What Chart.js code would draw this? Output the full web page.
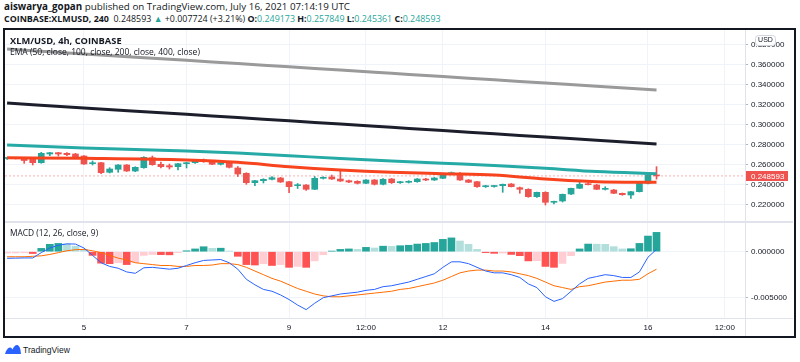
<!DOCTYPE html>
<html>
<head>
<meta charset="utf-8">
<title>XLM/USD 4h</title>
<script src="https://cdn.jsdelivr.net/npm/chart.js@4.4.1/dist/chart.umd.min.js"></script>
<style>
  html, body { margin: 0; padding: 0; background: #ffffff; }
  body { position: relative; width: 800px; height: 362px; overflow: hidden;
         font-family: "Open Sans", "Liberation Sans", Arial, sans-serif; color: #131722; }
  .txt { position: absolute; white-space: nowrap; line-height: 1; }
  .up { color: #26a69a; }
  canvas { position: absolute; }
  .sep { position: absolute; background: #e0e3eb; }
  #frame { position: absolute; left: 3px; top: 28px; width: 793px; height: 310px;
           border: 2px solid #131722; box-sizing: border-box; pointer-events: none; }
</style>
</head>
<body>
<div class="txt" style="left:4px; top:2px; font-size:9.8px;"><b>aiswarya_gopan</b> published on TradingView.com, July 16, 2021 07:14:19 UTC</div>
<div class="txt" style="left:4px; top:14.5px; font-size:8.9px;"><b>COINBASE:XLMUSD, 240</b>&nbsp; 0.248593 <span class="up">▲</span> +0.007724 (+3.21%) <b>O:</b><span class="up">0.249173</span> <b>H:</b><span class="up">0.257849</span> <b>L:</b><span class="up">0.245361</span> <b>C:</b><span class="up">0.248593</span></div>

<canvas id="priceChart" width="789" height="192" style="left:5px; top:30px;"></canvas>
<canvas id="macdChart" width="789" height="114" style="left:5px; top:222px;"></canvas>

<div class="sep" style="left:745px; top:30px; width:1px; height:306px;"></div>
<div class="sep" style="left:5px; top:221px; width:788px; height:2px;"></div>
<div class="sep" style="left:5px; top:318px; width:788px; height:1px;"></div>

<div class="txt" style="left:10px; top:36px; font-size:9.3px; font-weight:bold;">XLM/USD, 4h, COINBASE</div>
<div class="txt" style="left:10px; top:48px; font-size:8.5px;">EMA (50, close, 100, close, 200, close, 400, close)</div>
<div class="txt" style="left:10px; top:228.5px; font-size:8.4px;">MACD (12, 26, close, 9)</div>

<div id="frame"></div>

<svg style="position:absolute; left:5px; top:344px;" width="16" height="11" viewBox="0 0 32 22">
  <path d="M0 20 Q3 9 9 7 Q13 6 15 11 Q19 1 25 2 Q31 4 32 20 Z" fill="#2962ff"/>
</svg>
<div class="txt" style="left:23px; top:346px; font-size:8.5px; font-family:'Liberation Sans', Arial, sans-serif;">TradingView</div>

<script>
// candles, one every 4 hours, index 0 = July 3 12:00
const candleOpen = [0.2660, 0.2663, 0.2662, 0.2652, 0.2618, 0.2705, 0.2718, 0.2712, 0.2705, 0.2685,
  0.2608, 0.2618, 0.2522, 0.2552, 0.2595, 0.2535, 0.2568, 0.2668, 0.2602, 0.2588,
  0.2578, 0.2608, 0.2618, 0.2645, 0.2635, 0.2602, 0.2618, 0.2565, 0.2512, 0.2418,
  0.2438, 0.2452, 0.2465, 0.2428, 0.2388, 0.2395, 0.2352, 0.2462, 0.2475, 0.2455,
  0.2438, 0.2432, 0.2412, 0.2445, 0.2402, 0.2455, 0.2418, 0.2422, 0.2428, 0.2455,
  0.2445, 0.2462, 0.2505, 0.2512, 0.2445, 0.2428, 0.2378, 0.2380, 0.2388, 0.2405,
  0.2368, 0.2352, 0.2278, 0.2322, 0.2222, 0.2235, 0.2305, 0.2362, 0.2408, 0.2395,
  0.2352, 0.2345, 0.2312, 0.2295, 0.2328, 0.2412, 0.249173];
const candleHigh = [0.2670, 0.2672, 0.2668, 0.2662, 0.2722, 0.2722, 0.2722, 0.2718, 0.2712, 0.2690,
  0.2635, 0.2622, 0.2568, 0.2600, 0.2600, 0.2578, 0.2678, 0.2685, 0.2625, 0.2605,
  0.2612, 0.2622, 0.2645, 0.2655, 0.2640, 0.2625, 0.2625, 0.2580, 0.2518, 0.2442,
  0.2458, 0.2478, 0.2472, 0.2432, 0.2410, 0.2398, 0.2480, 0.2478, 0.2495, 0.2535,
  0.2445, 0.2438, 0.2450, 0.2450, 0.2458, 0.2460, 0.2432, 0.2438, 0.2460, 0.2462,
  0.2470, 0.2510, 0.2525, 0.2520, 0.2450, 0.2432, 0.2392, 0.2388, 0.2405, 0.2410,
  0.2375, 0.2358, 0.2325, 0.2328, 0.2235, 0.2305, 0.2365, 0.2428, 0.2418, 0.2402,
  0.2378, 0.2352, 0.2315, 0.2332, 0.2418, 0.2502, 0.257849];
const candleLow = [0.2652, 0.2655, 0.2612, 0.2595, 0.2612, 0.2688, 0.2685, 0.2688, 0.2672, 0.2600,
  0.2595, 0.2508, 0.2515, 0.2522, 0.2530, 0.2528, 0.2562, 0.2592, 0.2565, 0.2555,
  0.2545, 0.2565, 0.2612, 0.2622, 0.2598, 0.2595, 0.2565, 0.2480, 0.2402, 0.2388,
  0.2415, 0.2445, 0.2420, 0.2318, 0.2360, 0.2340, 0.2348, 0.2455, 0.2450, 0.2430,
  0.2418, 0.2405, 0.2408, 0.2395, 0.2395, 0.2410, 0.2412, 0.2415, 0.2422, 0.2438,
  0.2440, 0.2458, 0.2500, 0.2440, 0.2418, 0.2372, 0.2370, 0.2374, 0.2322, 0.2375,
  0.2312, 0.2272, 0.2272, 0.2195, 0.2205, 0.2225, 0.2298, 0.2358, 0.2395, 0.2348,
  0.2345, 0.2308, 0.2292, 0.2262, 0.2325, 0.2405, 0.245361];
const candleClose = [0.2663, 0.2661, 0.2640, 0.2618, 0.2712, 0.2718, 0.2705, 0.2698, 0.2678, 0.2605,
  0.2612, 0.2518, 0.2555, 0.2595, 0.2535, 0.2572, 0.2672, 0.2598, 0.2578, 0.2575,
  0.2608, 0.2618, 0.2638, 0.2628, 0.2602, 0.2618, 0.2572, 0.2505, 0.2418, 0.2438,
  0.2452, 0.2468, 0.2425, 0.2378, 0.2391, 0.2352, 0.2462, 0.2472, 0.2455, 0.2435,
  0.2425, 0.2412, 0.2445, 0.2402, 0.2452, 0.2418, 0.2428, 0.2432, 0.2455, 0.2445,
  0.2465, 0.2505, 0.2518, 0.2445, 0.2422, 0.2378, 0.2388, 0.2382, 0.2402, 0.2378,
  0.2352, 0.2278, 0.2322, 0.2222, 0.2232, 0.2302, 0.2362, 0.2402, 0.2398, 0.2352,
  0.2360, 0.2312, 0.2298, 0.2328, 0.2412, 0.2495, 0.248593];
const lastPrice = 0.248593;

// EMA lines, read at a few candle indexes
const emaIdx = [0, 9, 21, 27, 33, 39, 45, 51, 57, 63, 69, 76];
const ema50  = [0.2668, 0.2662, 0.2645, 0.2622, 0.2578, 0.2545, 0.2522, 0.2508, 0.2495, 0.2455, 0.2428, 0.2422];
const ema100 = [0.2795, 0.2765, 0.2735, 0.2715, 0.2688, 0.2660, 0.2635, 0.2612, 0.2590, 0.2562, 0.2530, 0.2508];
const ema200 = [0.3215, 0.3166, 0.3102, 0.3069, 0.3037, 0.3004, 0.2972, 0.2940, 0.2907, 0.2875, 0.2842, 0.2805];
const ema400 = [0.3755, 0.3706, 0.3642, 0.3609, 0.3577, 0.3544, 0.3512, 0.3480, 0.3447, 0.3415, 0.3382, 0.3345];

// MACD pane, one value per candle
const macdLine = [-0.00072, -0.0007, -0.00068, -0.00068, -0.0001, 0.0004, 0.0007, 0.00085, 0.00083, 0.0004,
  -0.0004, -0.0012, -0.0016, -0.0018, -0.0022, -0.00235, -0.00175, -0.0017, -0.0018, -0.0019,
  -0.0018, -0.0015, -0.0012, -0.00095, -0.0009, -0.00085, -0.0012, -0.0019, -0.003, -0.0036,
  -0.0041, -0.0043, -0.0047, -0.0052, -0.0058, -0.0063, -0.0056, -0.005, -0.0048, -0.0046,
  -0.0045, -0.0044, -0.0042, -0.0041, -0.0038, -0.0037, -0.0035, -0.0033, -0.003, -0.0027,
  -0.0024, -0.0017, -0.0011, -0.0011, -0.0013, -0.0017, -0.0021, -0.0023, -0.0023, -0.0025,
  -0.0028, -0.0035, -0.0039, -0.0049, -0.0054, -0.0051, -0.0043, -0.0035, -0.0029, -0.0027,
  -0.0025, -0.0026, -0.0028, -0.0028, -0.0022, -0.0006, 0.00025];
const signalLine = [-0.00055, -0.00055, -0.00055, -0.0005, -0.00045, -0.0003, -0.0001, 0.0001, 0.00022, 0.00025,
  0.0001, -0.0001, -0.0004, -0.0007, -0.0009, -0.0012, -0.0013, -0.0014, -0.0015, -0.0015,
  -0.0016, -0.0016, -0.0015, -0.0015, -0.00145, -0.0013, -0.0013, -0.0014, -0.0017, -0.0021,
  -0.0025, -0.0029, -0.0032, -0.0036, -0.004, -0.0043, -0.0046, -0.0048, -0.0049, -0.0049,
  -0.0048, -0.0047, -0.0046, -0.0045, -0.0044, -0.0043, -0.0041, -0.004, -0.0038, -0.0036,
  -0.0034, -0.0031, -0.0027, -0.0023, -0.0021, -0.002, -0.002, -0.0021, -0.0021, -0.0022,
  -0.0024, -0.0026, -0.0029, -0.0033, -0.0037, -0.0039, -0.0041, -0.0038, -0.0037, -0.0035,
  -0.0033, -0.0032, -0.0031, -0.0031, -0.003, -0.0024, -0.0019];
const macdHist = [-0.00015, -0.00014, -0.00012, -0.0002, 0.00036, 0.0008, 0.0009, 0.00085, 0.0006, 0.00025,
  -0.0004, -0.00125, -0.0013, -0.0012, -0.0014, -0.0012, -0.0004, -0.0003, -0.00032, -0.00034,
  -0.0001, 0.0001, 0.0003, 0.00054, 0.00036, 0.00038, 0.00007, -0.0005, -0.0014, -0.00145,
  -0.0013, -0.0015, -0.0014, -0.0017, -0.0016, -0.0017, -0.001, -0.00033, 0.00007, 0.00025,
  0.0003, 0.00025, 0.00047, 0.0004, 0.0006, 0.00058, 0.00065, 0.0007, 0.00083, 0.0009,
  0.001, 0.00134, 0.0015, 0.00116, 0.0008, 0.00025, -0.0001, -0.00018, -0.00015, -0.0003,
  -0.00043, -0.001, -0.00098, -0.0016, -0.0017, -0.00127, -0.00043, 0.0003, 0.00083, 0.00082,
  0.0008, 0.00055, 0.0003, 0.00032, 0.0009, 0.0017, 0.0021];

// axes
const priceTicks = [0.22, 0.24, 0.26, 0.28, 0.30, 0.32, 0.34, 0.36, 0.38];
const macdTicks = [0, -0.005];
const timeTickIdx = [9, 21, 33, 42, 51, 63, 75, 84];
const timeTickLabels = ['5', '7', '9', '12:00', '12', '14', '16', '12:00'];

const UP = '#26a69a';
const DOWN = '#ef5350';
const GRID = '#f0f3fa';
const FONT = { family: '"Liberation Sans", Arial, sans-serif', size: 8 };
const xMin = -0.245;
const xMax = 86.355;

function candleColor(ctx) {
    const i = ctx.dataIndex;
    return candleClose[i] >= candleOpen[i] ? UP : DOWN;
}

function histColor(ctx) {
    const i = ctx.dataIndex;
    const v = macdHist[i];
    const prev = i > 0 ? macdHist[i - 1] : -Infinity;
    if (v >= 0) return v >= prev ? '#26a69a' : '#b2dfdb';
    return v > prev ? '#ffcdd2' : '#ff5252';
}

function emaPoints(values) {
    return emaIdx.map((x, k) => ({ x: x, y: values[k] }));
}

function timeAxis(showLabels) {
    return {
        type: 'linear', min: xMin, max: xMax, offset: false,
        grid: { color: GRID, drawTicks: false, offset: false },
        border: { display: false },
        ticks: {
            display: showLabels, font: FONT, color: '#131722', padding: 5,
            autoSkip: false, maxRotation: 0,
            callback: v => timeTickLabels[timeTickIdx.indexOf(v)]
        },
        afterBuildTicks: s => { s.ticks = timeTickIdx.map(v => ({ value: v })); },
        afterFit: s => { s.height = showLabels ? 18 : 0; s.paddingLeft = 0; s.paddingRight = 0; }
    };
}

function valueAxis(min, max, ticks) {
    return {
        type: 'linear', position: 'right', min: min, max: max,
        grid: { color: GRID, tickLength: 3, tickColor: '#b2b5be' },
        border: { display: false },
        ticks: { font: FONT, color: '#131722', padding: 3, callback: v => v.toFixed(6) },
        afterBuildTicks: s => { s.ticks = ticks.map(v => ({ value: v })); },
        afterFit: s => { s.width = 49; s.paddingTop = 0; s.paddingBottom = 0; }
    };
}

const baseOptions = {
    responsive: false,
    animation: false,
    devicePixelRatio: 1,
    events: [],
    layout: { padding: 0 },
    plugins: { legend: { display: false }, tooltip: { enabled: false } }
};

// last price tag and the USD badge on the price scale
const priceTags = {
    id: 'priceTags',
    afterDraw(chart) {
        const ctx = chart.ctx;
        const right = chart.chartArea.right;
        const y = Math.round(chart.scales.y.getPixelForValue(lastPrice));
        ctx.save();
        ctx.fillStyle = DOWN;
        ctx.fillRect(right, y - 5, 43, 10);
        ctx.fillStyle = '#ffffff';
        ctx.font = '8px "Liberation Sans", Arial, sans-serif';
        ctx.textBaseline = 'middle';
        ctx.fillText(lastPrice.toFixed(6), right + 6, y + 0.5);

        ctx.fillStyle = '#ffffff';
        ctx.strokeStyle = '#d1d4dc';
        ctx.lineWidth = 1;
        ctx.beginPath();
        ctx.roundRect(right + 10.5, 5.5, 20, 10, 3);
        ctx.fill();
        ctx.stroke();
        ctx.fillStyle = '#131722';
        ctx.font = '7px "Liberation Sans", Arial, sans-serif';
        ctx.textAlign = 'center';
        ctx.fillText('USD', right + 20.5, 10.5);
        ctx.restore();
    }
};

new Chart(document.getElementById('priceChart'), {
    type: 'bar',
    data: {
        datasets: [
            { type: 'line', label: 'EMA 50', data: emaPoints(ema50), borderColor: '#f7441f', borderWidth: 3,
              pointRadius: 0, cubicInterpolationMode: 'monotone', order: 1 },
            { type: 'line', label: 'EMA 100', data: emaPoints(ema100), borderColor: '#26aaa6', borderWidth: 3,
              pointRadius: 0, cubicInterpolationMode: 'monotone', order: 2 },
            { type: 'line', label: 'EMA 200', data: emaPoints(ema200), borderColor: '#1c1f2b', borderWidth: 3,
              pointRadius: 0, cubicInterpolationMode: 'monotone', order: 2 },
            { type: 'line', label: 'EMA 400', data: emaPoints(ema400), borderColor: '#9a9a9a', borderWidth: 3,
              pointRadius: 0, cubicInterpolationMode: 'monotone', order: 2 },
            { type: 'line', label: 'Last', data: [{ x: xMin, y: lastPrice }, { x: xMax, y: lastPrice }],
              borderColor: 'rgba(239, 83, 80, 0.45)', borderDash: [2, 2], borderWidth: 1, pointRadius: 0, order: 3 },
            { label: 'Body', data: candleOpen.map((o, i) => ({ x: i, y: [o, candleClose[i]] })),
              backgroundColor: candleColor, barThickness: 6, minBarLength: 1, grouped: false, order: 4 },
            { label: 'Wick', data: candleOpen.map((o, i) => ({ x: i, y: [candleLow[i], candleHigh[i]] })),
              backgroundColor: candleColor, barThickness: 1, grouped: false, order: 5 }
        ]
    },
    options: Object.assign({}, baseOptions, {
        scales: { x: timeAxis(false), y: valueAxis(0.2025, 0.3945, priceTicks) }
    }),
    plugins: [priceTags]
});

new Chart(document.getElementById('macdChart'), {
    type: 'bar',
    data: {
        datasets: [
            { type: 'line', label: 'MACD', data: macdLine.map((v, i) => ({ x: i, y: v })),
              borderColor: '#2962ff', borderWidth: 1, pointRadius: 0, order: 1 },
            { type: 'line', label: 'Signal', data: signalLine.map((v, i) => ({ x: i, y: v })),
              borderColor: '#ff6d00', borderWidth: 1, pointRadius: 0, order: 2 },
            { label: 'Histogram', data: macdHist.map((v, i) => ({ x: i, y: v })),
              backgroundColor: histColor, barThickness: 7, grouped: false, order: 3 }
        ]
    },
    options: Object.assign({}, baseOptions, {
        scales: { x: timeAxis(true), y: valueAxis(-0.007207, 0.003228, macdTicks) }
    })
});
</script>
</body>
</html>
